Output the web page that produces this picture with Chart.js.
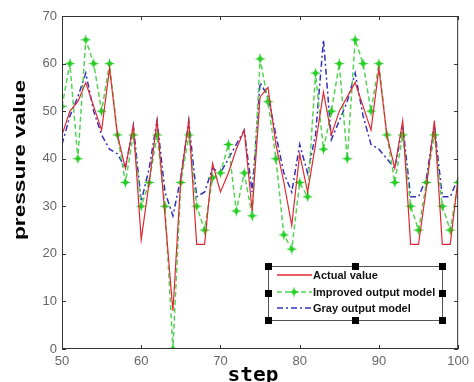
<!DOCTYPE html>
<html>
<head>
<meta charset="utf-8">
<script src="https://cdn.jsdelivr.net/npm/chart.js@4"></script>
<style>
html, body { margin: 0; padding: 0; background: #fff; }
</style>
</head>
<body>
<canvas id="pressureChart" width="474" height="382"></canvas>
<script>
// datos
const steps = [50, 51, 52, 53, 54, 55, 56, 57, 58, 59,
               60, 61, 62, 63, 64, 65, 66, 67, 68, 69,
               70, 71, 72, 73, 74, 75, 76, 77, 78, 79,
               80, 81, 82, 83, 84, 85, 86, 87, 88, 89,
               90, 91, 92, 93, 94, 95, 96, 97, 98, 99, 100];
const actualValue = [45, 50, 52, 56, 51, 46, 59, 45, 38, 47,
                     23, 35, 48, 28, 8, 36, 48, 22, 22, 39,
                     33, 37, 42, 46, 29, 53, 55, 43, 35, 26,
                     41, 33, 43, 54, 45, 50, 53, 56, 51, 46,
                     59, 45, 38, 48, 22, 22, 34, 48, 22, 22, 36];
const improvedModel = [51, 60, 40, 65, 60, 50, 60, 45, 35, 45,
                       30, 35, 45, 30, 0, 35, 45, 30, 25, 36,
                       37, 43, 29, 37, 28, 61, 52, 40, 24, 21,
                       35, 32, 58, 42, 50, 60, 40, 65, 60, 50,
                       60, 45, 35, 45, 30, 25, 35, 45, 30, 25, 35];
const grayModel = [43, 49, 53, 58, 50, 45, 42, 41, 38, 47,
                   31, 38, 48, 33, 28, 36, 48, 32, 33, 38,
                   37, 40, 43, 46, 33, 56, 53, 45, 37, 33,
                   43, 37, 45, 65, 44, 48, 52, 58, 49, 43,
                   42, 40, 38, 47, 32, 32, 36, 47, 32, 32, 36];
const xTicks = [50, 60, 70, 80, 90, 100];
const yTicks = [0, 10, 20, 30, 40, 50, 60, 70];
const legendLabels = ['Actual value', 'Improved output model', 'Gray output model'];

const RED = 'rgb(225, 40, 50)';
const GREEN = 'rgb(85, 210, 85)';
const GREEN_STAR = 'rgb(35, 205, 35)';
const BLUE = 'rgb(50, 50, 185)';

// marcador estrella de 4 puntas
function makeStar(size, color) {
    const c = document.createElement('canvas');
    c.width = c.height = size;
    const g = c.getContext('2d');
    const r = size / 2, ri = size * 0.15;
    g.fillStyle = color;
    g.beginPath();
    for (let i = 0; i < 8; i++) {
        const ang = i * Math.PI / 4 - Math.PI / 2;
        const rad = i % 2 === 0 ? r : ri;
        g.lineTo(r + rad * Math.cos(ang), r + rad * Math.sin(ang));
    }
    g.closePath();
    g.fill();
    g.beginPath();
    g.arc(r, r, size * 0.2, 0, 2 * Math.PI);
    g.fill();
    return c;
}
const star = makeStar(11, GREEN_STAR);

function toPoints(values) {
    return steps.map((s, i) => ({ x: s, y: values[i] }));
}

// caja, marcas interiores, titulos y leyenda
const boxPlugin = {
    id: 'boxPlugin',
    afterDraw(chart) {
        const { ctx, chartArea: a, scales: { x, y } } = chart;
        ctx.save();
        ctx.strokeStyle = '#333';
        ctx.lineWidth = 1;
        ctx.strokeRect(a.left + 0.5, a.top + 0.5, a.right - a.left - 1, a.bottom - a.top - 1);
        ctx.beginPath();
        xTicks.forEach(v => {
            const px = Math.round(x.getPixelForValue(v)) + 0.5;
            ctx.moveTo(px, a.bottom); ctx.lineTo(px, a.bottom - 4);
            ctx.moveTo(px, a.top); ctx.lineTo(px, a.top + 4);
        });
        yTicks.forEach(v => {
            const py = Math.round(y.getPixelForValue(v)) + 0.5;
            ctx.moveTo(a.left, py); ctx.lineTo(a.left + 4, py);
            ctx.moveTo(a.right, py); ctx.lineTo(a.right - 4, py);
        });
        ctx.stroke();

        // titulo eje y
        ctx.fillStyle = '#000';
        ctx.font = 'bold 17px "Liberation Sans", Arial, sans-serif';
        ctx.textAlign = 'center';
        ctx.textBaseline = 'middle';
        let w = ctx.measureText('pressure value').width;
        ctx.save();
        ctx.translate(20, 160);
        ctx.rotate(-Math.PI / 2);
        ctx.scale(160 / w, 1);
        ctx.fillText('pressure value', 0, 0);
        ctx.restore();

        // titulo eje x
        ctx.font = 'bold 20px "DejaVu Sans Mono", monospace';
        ctx.textBaseline = 'alphabetic';
        w = ctx.measureText('step').width;
        ctx.save();
        ctx.translate(253, 381);
        ctx.scale(51 / w, 1);
        ctx.fillText('step', 0, 0);
        ctx.restore();

        // leyenda
        const L = 268, R = 442, T = 266, B = 320;
        ctx.fillStyle = '#fff';
        ctx.fillRect(L, T, R - L, B - T);
        ctx.strokeStyle = '#555';
        ctx.strokeRect(L + 0.5, T + 0.5, R - L, B - T);
        ctx.fillStyle = '#000';
        [[L, T], [L, (T + B) / 2], [L, B], [(L + R) / 2, T], [(L + R) / 2, B], [R, T], [R, (T + B) / 2], [R, B]]
            .forEach(([hx, hy]) => ctx.fillRect(Math.round(hx) - 3, Math.round(hy) - 3, 7, 7));
        const rows = [275, 292, 308];
        const styles = [
            { color: RED, dash: [], width: 1.5 },
            { color: GREEN, dash: [5, 3], width: 1.5 },
            { color: BLUE, dash: [6, 3, 2, 3], width: 1.5 }
        ];
        rows.forEach((ry, i) => {
            ctx.strokeStyle = styles[i].color;
            ctx.lineWidth = styles[i].width;
            ctx.setLineDash(styles[i].dash);
            ctx.beginPath();
            ctx.moveTo(277, ry);
            ctx.lineTo(312, ry);
            ctx.stroke();
            ctx.setLineDash([]);
            if (i === 1) ctx.drawImage(star, 294 - 5.5, ry - 5.5);
            ctx.fillStyle = '#111';
            ctx.font = 'bold 11px "Liberation Sans", Arial, sans-serif';
            ctx.textAlign = 'left';
            ctx.textBaseline = 'middle';
            ctx.fillText(legendLabels[i], 313, ry + 1);
        });
        ctx.restore();
    }
};

const chart = new Chart(document.getElementById('pressureChart').getContext('2d'), {
    type: 'line',
    data: {
        datasets: [{
            label: legendLabels[0],
            data: toPoints(actualValue),
            borderColor: RED,
            borderWidth: 1.2,
            pointRadius: 0,
            tension: 0
        }, {
            label: legendLabels[1],
            data: toPoints(improvedModel),
            borderColor: GREEN,
            borderWidth: 1.5,
            borderDash: [5, 3],
            pointStyle: star,
            pointRadius: 5,
            tension: 0
        }, {
            label: legendLabels[2],
            data: toPoints(grayModel),
            borderColor: BLUE,
            borderWidth: 1.5,
            borderDash: [6, 3, 2, 3],
            pointRadius: 0,
            tension: 0
        }]
    },
    options: {
        responsive: false,
        animation: false,
        layout: { padding: { top: 16, right: 15, left: 0, bottom: 0 } },
        plugins: {
            legend: { display: false },
            tooltip: { enabled: false }
        },
        scales: {
            x: {
                type: 'linear',
                min: 50,
                max: 100,
                afterFit(scale) { scale.height = 33; },
                afterBuildTicks(scale) { scale.ticks = xTicks.map(v => ({ value: v })); },
                grid: { display: false, drawTicks: false, tickLength: 0 },
                border: { display: false },
                ticks: { color: '#666', padding: 5, font: { size: 13, family: '"Liberation Sans", Arial, sans-serif' } }
            },
            y: {
                min: 0,
                max: 70,
                afterFit(scale) { scale.width = 62; },
                afterBuildTicks(scale) { scale.ticks = yTicks.map(v => ({ value: v })); },
                grid: { display: false, drawTicks: false, tickLength: 0 },
                border: { display: false },
                ticks: { color: '#666', padding: 5, font: { size: 13, family: '"Liberation Sans", Arial, sans-serif' } }
            }
        }
    },
    plugins: [boxPlugin]
});
</script>
</body>
</html>
